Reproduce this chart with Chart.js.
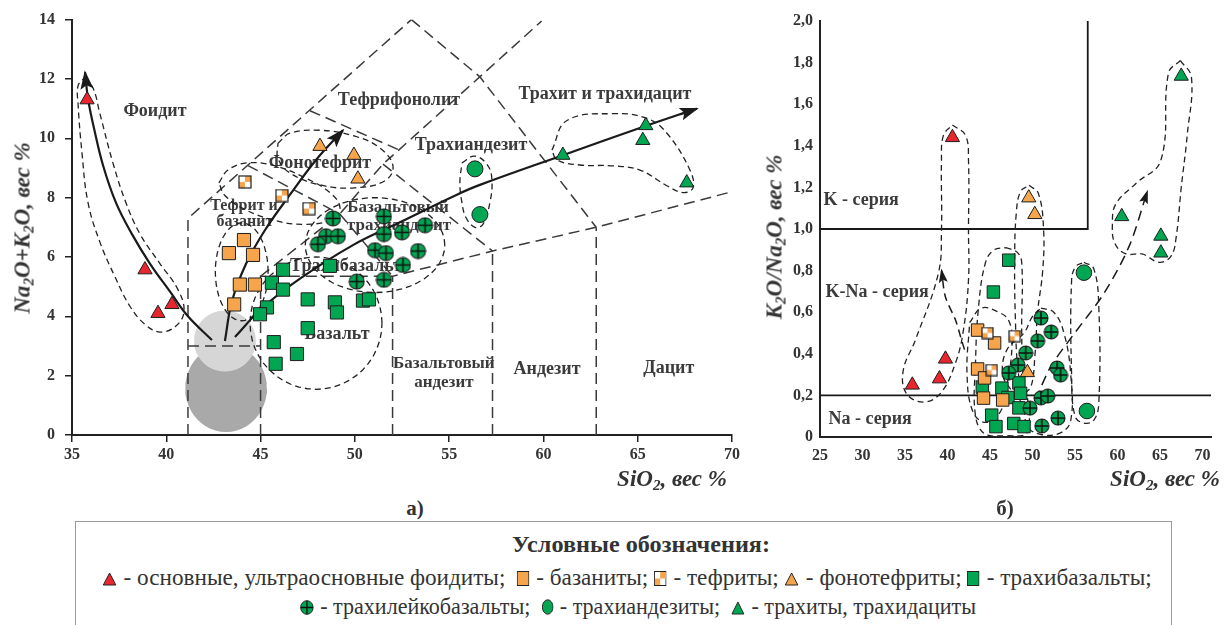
<!DOCTYPE html>
<html>
<head>
<meta charset="utf-8">
<script src="https://cdn.jsdelivr.net/npm/chart.js@4.4.1/dist/chart.umd.min.js"></script>
<style>
html,body{margin:0;padding:0;background:#fff;}
body{width:1232px;height:625px;position:relative;overflow:hidden;font-family:"Liberation Serif","DejaVu Serif",serif;color:#333;}
canvas{position:absolute;top:0;}
#tas{left:0;}
#kn{left:760px;}
.atitle{position:absolute;font-weight:bold;font-style:italic;font-size:23px;white-space:nowrap;color:#333;line-height:1;}
.atitle sub{font-size:15px;vertical-align:-4px;line-height:0;}
.rot{transform:translate(-50%,-50%) rotate(-90deg);}
.hor{transform:translate(-50%,-50%);}
.panel{position:absolute;font-weight:bold;font-size:21px;transform:translate(-50%,-50%);color:#333;}
#legend{position:absolute;left:75px;top:521px;width:1097px;height:130px;border:1px solid #9a9a9a;box-sizing:border-box;}
.lg{position:absolute;white-space:nowrap;color:#333;line-height:1;}
.lg-title{font-weight:bold;font-size:23px;}
.lg-row{font-size:24px;}
.lg-row svg{vertical-align:-1px;margin-right:1px;}
</style>
</head>
<body>
<canvas id="tas" width="745" height="470"></canvas>
<canvas id="kn" width="472" height="470"></canvas>

<div class="atitle rot" style="left:22px;top:228px;">Na<sub>2</sub>O+K<sub>2</sub>O, вес %</div>
<div class="atitle hor" style="left:672px;top:478px;">SiO<sub>2</sub>, вес %</div>
<div class="atitle rot" style="left:774px;top:237px;">K<sub>2</sub>O/Na<sub>2</sub>O, вес %</div>
<div class="atitle hor" style="left:1165px;top:478px;">SiO<sub>2</sub>, вес %</div>
<div class="panel" style="left:415px;top:508px;">а)</div>
<div class="panel" style="left:1005px;top:508px;">б)</div>

<div class="lg lg-title" id="lgTitle" style="left:641px;top:544px;">Условные обозначения:</div>
<div class="lg lg-row" id="row1" style="left:627px;top:577px;">
<svg width="15" height="14"><polygon points="7.5,1 14,13 1,13" fill="#e8262d" stroke="#222" stroke-width="1"/></svg> - основные, ультраосновные фоидиты;&nbsp;
<svg width="13" height="15"><rect x="0.5" y="0.5" width="12" height="14" fill="#f6a54c" stroke="#222" stroke-width="1"/></svg> - базаниты;
<svg width="13" height="15"><rect x="0.5" y="0.5" width="12" height="14" fill="#fff" stroke="#222" stroke-width="1"/><rect x="6.5" y="1" width="6" height="6.5" fill="#f6a54c"/><rect x="1" y="7.5" width="5.5" height="6.5" fill="#f6a54c"/></svg> - тефриты;
<svg width="15" height="14"><polygon points="7.5,1 14,13 1,13" fill="#f6a54c" stroke="#222" stroke-width="1"/></svg> - фонотефриты;
<svg width="13" height="15"><rect x="0.5" y="0.5" width="12" height="14" fill="#00a651" stroke="#222" stroke-width="1"/></svg> - трахибазальты;
</div>
<div class="lg lg-row" id="row2" style="left:638px;top:606px;">
<svg width="15" height="15"><circle cx="7.5" cy="7.5" r="6.8" fill="#00a651" stroke="#222" stroke-width="1"/><path d="M7.5 0.7V14.3M0.7 7.5H14.3" stroke="#111" stroke-width="1.4"/></svg> - трахилейкобазальты;&nbsp;
<svg width="13" height="16"><ellipse cx="6.5" cy="8" rx="5.8" ry="7.2" fill="#00a651" stroke="#222" stroke-width="1"/></svg> - трахиандезиты;&nbsp;
<svg width="15" height="14"><polygon points="7.5,1 14,13 1,13" fill="#00a651" stroke="#222" stroke-width="1"/></svg> - трахиты, трахидациты
</div>
<div id="legend"></div>

<script>
// ---------- tick values ----------
const tasSiTicks = [35, 40, 45, 50, 55, 60, 65, 70];
const tasAlkTicks = [0, 2, 4, 6, 8, 10, 12, 14];
const knSiTicks = [25, 30, 35, 40, 45, 50, 55, 60, 65, 70];
const knRatioTicks = [0, 0.2, 0.4, 0.6, 0.8, 1.0, 1.2, 1.4, 1.6, 1.8, 2.0];
const knRatioLabels = ['0', '0,2', '0,4', '0,6', '0,8', '1,0', '1,2', '1,4', '1,6', '1,8', '2,0'];

// ---------- a) Na2O+K2O vs SiO2 ----------
const tasFoiditeSi   = [35.8, 38.87, 39.56, 40.3];
const tasFoiditeAlk  = [11.3, 5.57, 4.1, 4.4];
const tasBasaniteSi  = [44.12, 43.32, 44.6, 43.9, 44.7, 43.6];
const tasBasaniteAlk = [6.57, 6.13, 6.07, 5.07, 5.07, 4.4];
const tasTephriteSi  = [44.17, 46.13, 47.57];
const tasTephriteAlk = [8.53, 8.07, 7.63];
const tasPhonotephriteSi  = [48.15, 49.95, 50.16];
const tasPhonotephriteAlk = [9.73, 9.43, 8.63];
const tasTrachybasaltSi  = [46.19, 48.68, 45.6, 46.19, 47.5, 48.94, 49.05, 45.34, 44.97, 47.5, 45.7, 46.93, 45.8, 50.43, 50.75];
const tasTrachybasaltAlk = [5.57, 5.7, 5.13, 4.9, 4.57, 4.47, 4.13, 4.3, 4.07, 3.6, 3.13, 2.73, 2.4, 4.53, 4.57];
const tasLeucoSi  = [48.84, 51.54, 53.72, 52.5, 51.54, 48.47, 49.1, 48.04, 51.07, 51.65, 53.35, 52.55, 50.1, 51.54];
const tasLeucoAlk = [7.3, 7.37, 7.07, 6.83, 6.77, 6.7, 6.7, 6.43, 6.23, 6.13, 6.2, 5.73, 5.17, 5.23];
const tasTrachyandesiteSi  = [56.37, 56.63];
const tasTrachyandesiteAlk = [8.97, 7.43];
const tasTrachyteSi  = [61.03, 65.43, 65.27, 67.6];
const tasTrachyteAlk = [9.43, 10.43, 9.93, 8.5];

// ---------- б) K2O/Na2O vs SiO2 ----------
const knFoiditeSi    = [35.86, 39.05, 39.76, 40.58];
const knFoiditeRatio = [0.25, 0.28, 0.375, 1.44];
const knBasaniteSi    = [43.54, 45.54, 43.54, 44.36, 44.24, 46.49];
const knBasaniteRatio = [0.514, 0.452, 0.327, 0.284, 0.187, 0.178];
const knTephriteSi    = [44.7, 47.9, 45.2];
const knTephriteRatio = [0.5, 0.485, 0.322];
const knPhonotephriteSi    = [49.56, 50.27, 49.4];
const knPhonotephriteRatio = [1.15, 1.07, 0.31];
const knTrachybasaltSi    = [47.2, 45.4, 44.1, 46.4, 48.4, 48.6, 47.1, 48.4, 45.2, 45.7, 47.8, 49.0];
const knTrachybasaltRatio = [0.85, 0.697, 0.24, 0.235, 0.26, 0.21, 0.19, 0.14, 0.105, 0.05, 0.065, 0.05];
const knLeucoSi    = [51.0, 52.2, 50.6, 49.2, 48.3, 47.2, 52.9, 53.3, 51.0, 51.8, 49.7, 53.0, 51.1];
const knLeucoRatio = [0.572, 0.505, 0.462, 0.404, 0.346, 0.308, 0.332, 0.298, 0.188, 0.197, 0.139, 0.091, 0.053];
const knTrachyandesiteSi    = [56.05, 56.4];
const knTrachyandesiteRatio = [0.79, 0.125];
const knTrachyteSi    = [67.5, 60.5, 65.1, 65.1];
const knTrachyteRatio = [1.735, 1.06, 0.966, 0.885];

// ---------- TAS field boundaries (SiO2, Na2O+K2O) ----------
const tasBoundaries = [
  [[41.15, 0], [41.15, 7.3], [53.0, 14.0]],
  [[41.15, 3.0], [45.0, 3.0]],
  [[45.0, 0], [45.0, 5.35], [52.0, 5.35]],
  [[52.0, 0], [52.0, 5.35], [57.3, 6.2], [62.8, 7.0], [70, 8.2]],
  [[57.3, 0], [57.3, 6.2]],
  [[62.8, 0], [62.8, 7.0]],
  [[45.0, 5.35], [49.2, 7.45], [51.49, 9.13], [52.34, 9.61], [59.9, 13.95]],
  [[44.33, 9.08], [49.2, 7.45]],
  [[49.2, 7.45], [52.0, 5.35]],
  [[47.62, 10.93], [52.34, 9.61]],
  [[51.49, 9.13], [57.3, 6.2]],
  [[53.0, 14.0], [56.63, 12.07], [62.8, 7.0]]
];

// grouping outlines on the TAS plot
const tasFoiditeLoop = [[35.64, 12.03], [36.11, 11.7], [36.48, 10.83], [37.17, 9.17], [37.86, 7.83], [38.61, 6.77], [39.67, 5.77], [40.62, 4.9], [40.94, 4.17], [40.51, 3.67], [39.67, 3.47], [38.87, 3.73], [38.08, 4.33], [37.28, 5.33], [36.48, 6.5], [35.85, 7.83], [35.53, 9.5], [35.32, 11.17], [35.32, 11.77]];
const tasTephriteLoop = [[42.79, 8.5], [43.27, 8.93], [44.28, 9.17], [45.76, 9.07], [47.35, 8.67], [48.68, 8.17], [49.21, 7.67], [48.79, 7.27], [47.35, 7.1], [45.76, 7.23], [44.17, 7.6], [43.11, 8.07]];
const tasPhonotephriteLoop = [[45.92, 9.83], [46.56, 10.17], [48.15, 10.27], [50.0, 10.07], [51.33, 9.67], [52.02, 9.07], [51.6, 8.57], [50.0, 8.33], [48.15, 8.43], [46.56, 8.83], [45.92, 9.33]];
const tasTrachyandesiteLoop = [[55.68, 9.17], [56.37, 9.4], [57.06, 9.07], [57.27, 8.57], [57.16, 7.83], [56.79, 7.1], [56.37, 7.0], [55.89, 7.33], [55.68, 7.83], [55.57, 8.5]];
const tasTrachyteLoop = [[60.45, 9.6], [61.25, 10.6], [63.69, 10.83], [65.49, 10.67], [66.55, 10.17], [67.77, 8.93], [67.93, 8.33], [67.4, 8.17], [66.55, 8.4], [65.12, 8.93], [63.69, 9.07], [61.94, 9.1], [60.72, 9.27]];
// ellipse outlines: [centre SiO2, centre alkali, half-width, half-height]
const tasBasaniteEllipse = [44.0, 5.5, 1.4, 1.65];
const tasBasaltEllipse = [47.94, 3.77, 3.5, 2.23];
const tasLeucoEllipse = [51.07, 6.4, 3.7, 1.6];
const picroDarkEllipse = [43.17, 1.57, 2.17, 1.47];
const picroLightEllipse = [43.11, 3.17, 1.64, 1.03];

// trend arrows
const tasFoiditeTrend = [[42.42, 3.2], [41.15, 4.0], [40.2, 4.83], [39.14, 5.77], [38.18, 6.77], [37.33, 7.83], [36.64, 9.1], [36.17, 10.33], [35.85, 11.33], [35.69, 12.23]];
const tasTephriteTrend = [[43.11, 3.17], [43.48, 4.5], [44.23, 5.77], [45.23, 6.9], [46.56, 8.1], [47.94, 9.27], [49.37, 10.27]];
const tasTrachyTrend = [[43.64, 3.3], [45.07, 4.27], [47.09, 5.27], [49.9, 6.4], [52.39, 7.17], [55.41, 8.1], [56.63, 8.43], [61.03, 9.43], [65.49, 10.43], [68.14, 11.0]];

// ---------- K2O/Na2O plot outlines ----------
const knSeriesLines = [
  [[25, 0.2], [71, 0.2]],
  [[25, 1.0], [56.5, 1.0], [56.5, 2.0]]
];
const knFoiditeLoop = [[40.58, 1.5], [42.12, 1.45], [42.47, 1.33], [42.47, 0.99], [42.47, 0.755], [41.88, 0.516], [40.94, 0.356], [39.17, 0.21], [37.16, 0.168], [35.15, 0.21], [34.8, 0.322], [36.22, 0.466], [38.93, 0.788], [39.29, 0.995], [39.29, 1.33], [39.52, 1.45]];
const knPhonotephriteLoop = [[49.6, 1.21], [50.7, 1.17], [51.3, 1.0], [51.2, 0.8], [50.6, 0.6], [50.3, 0.4], [49.8, 0.24], [48.9, 0.22], [48.3, 0.32], [48.0, 0.55], [47.9, 0.85], [48.1, 1.08], [48.6, 1.18]];
const knTrachybasaltLoop = [[46.84, 0.91], [48.14, 0.89], [48.73, 0.84], [48.73, 0.5], [48.9, 0.3], [49.6, 0.12], [49.2, 0.012], [46.84, 0.006], [44.48, 0.012], [43.3, 0.1], [43.3, 0.36], [43.65, 0.625], [44.48, 0.84], [45.5, 0.9]];
const knBasaniteLoop = [[42.6, 0.55], [44.0, 0.62], [46.0, 0.6], [47.2, 0.56], [47.6, 0.45], [47.0, 0.25], [46.2, 0.12], [44.5, 0.07], [43.0, 0.12], [42.3, 0.3]];
const knLeucoLoop = [[51.0, 0.62], [52.5, 0.6], [53.7, 0.5], [54.5, 0.3], [54.5, 0.08], [53.3, 0.02], [51.0, 0.012], [49.4, 0.05], [48.9, 0.15], [47.6, 0.22], [46.5, 0.3], [47.0, 0.42], [49.0, 0.5], [50.0, 0.58]];
const knTrachyandesiteLoop = [[56.05, 0.84], [57.2, 0.81], [57.8, 0.625], [57.8, 0.163], [57.2, 0.08], [56.05, 0.067], [55.0, 0.1], [54.6, 0.3], [54.6, 0.755], [55.1, 0.82]];
const knTrachyteLoop = [[67.4, 1.81], [68.7, 1.73], [68.2, 1.45], [67.5, 1.2], [66.9, 0.96], [66.3, 0.87], [64.9, 0.84], [62.9, 0.88], [61.0, 0.88], [59.7, 0.93], [59.4, 1.02], [59.8, 1.12], [62.2, 1.22], [65.1, 1.33], [66.0, 1.75]];
const knKNaTrend = [[42.0, 0.42], [41.65, 0.466], [40.94, 0.5625], [39.76, 0.673], [39.3, 0.8]];
const knTrachyTrend = [[49.0, 0.035], [51.9, 0.32], [54.6, 0.48], [58.4, 0.69], [61.4, 0.92], [63.5, 1.18]];

// ---------- field names ----------
const tasFieldNames = [
  {text: 'Фоидит', at: [39.4, 10.9]},
  {text: 'Тефрифонолит', at: [52.34, 11.27]},
  {text: 'Трахит и трахидацит', at: [63.26, 11.47]},
  {text: 'Фонотефрит', at: [48.15, 9.17]},
  {text: 'Трахиандезит', at: [56.16, 9.77]},
  {text: 'Тефрит и', at: [44.12, 7.73], size: 16},
  {text: 'базанит', at: [44.17, 7.17], size: 16},
  {text: 'Базальтовый', at: [52.29, 7.67], size: 17},
  {text: 'трахиандезит', at: [52.34, 7.07], size: 17},
  {text: 'Трахибазальт', at: [49.53, 5.67]},
  {text: 'Базальт', at: [49.05, 3.4]},
  {text: 'Пикроба-', at: [43.11, 1.73], size: 17},
  {text: 'зальт', at: [43.22, 1.1], size: 17},
  {text: 'Базальтовый', at: [54.72, 2.4], size: 17},
  {text: 'андезит', at: [54.72, 1.77], size: 17},
  {text: 'Андезит', at: [60.19, 2.2]},
  {text: 'Дацит', at: [66.65, 2.23]}
];
const knSeriesNames = [
  {text: 'K - серия', at: [29.84, 1.14]},
  {text: 'K-Na - серия', at: [31.73, 0.697]},
  {text: 'Na - серия', at: [30.9, 0.087]}
];

// ---------- styling ----------
const RED = '#e8262d', ORANGE = '#f6a54c', GREEN = '#00a651', EDGE = '#1e1e1e';
const SERIF = "'Liberation Serif', 'DejaVu Serif', serif";
Chart.defaults.font.family = SERIF;

function checkerMarker(size) {
  const c = document.createElement('canvas');
  c.width = c.height = size;
  const g = c.getContext('2d'), h = size / 2;
  g.fillStyle = '#fff'; g.fillRect(1, 1, size - 2, size - 2);
  g.fillStyle = ORANGE; g.fillRect(h, 1, h - 1, h - 1); g.fillRect(1, h, h - 1, h - 1);
  g.strokeStyle = EDGE; g.lineWidth = 1.2; g.strokeRect(1, 1, size - 2, size - 2);
  return c;
}
function crossMarker(d) {
  const c = document.createElement('canvas');
  c.width = c.height = d;
  const g = c.getContext('2d'), m = d / 2;
  g.beginPath(); g.arc(m, m, m - 1, 0, Math.PI * 2);
  g.fillStyle = GREEN; g.fill(); g.lineWidth = 1.1; g.strokeStyle = EDGE; g.stroke();
  g.beginPath(); g.moveTo(m, 1); g.lineTo(m, d - 1); g.moveTo(1, m); g.lineTo(d - 1, m);
  g.lineWidth = 1.6; g.strokeStyle = '#111'; g.stroke();
  return c;
}

const xy = (xs, ys) => xs.map((v, i) => ({x: v, y: ys[i]}));
const path = arr => arr.map(([x, y]) => ({x, y}));
const loop = arr => path(arr.concat([arr[0]]));
function ellipseOutline([cx, cy, rx, ry], n = 48) {
  const out = [];
  for (let i = 0; i <= n; i++) {
    const t = i / n * Math.PI * 2;
    out.push({x: cx + rx * Math.cos(t), y: cy + ry * Math.sin(t)});
  }
  return out;
}

function marks(data, style, fill, radius, order) {
  return {data, pointStyle: style, pointRadius: radius, pointHoverRadius: radius,
    backgroundColor: fill, borderColor: EDGE, borderWidth: 1, showLine: false, order: order};
}
function line(data, o) {
  return Object.assign({data, showLine: true, pointRadius: 0, pointHoverRadius: 0,
    borderColor: '#262626', borderWidth: 1.3, fill: false, tension: 0, order: 20}, o);
}
const boundaryStyle = {borderColor: '#3a3a3a', borderWidth: 1.5, borderDash: [11, 6], order: 30};
const loopStyle = {borderColor: '#222', borderWidth: 1.3, borderDash: [6, 4], tension: 0.4, order: 25};
const arrowStyle = {borderColor: '#1a1a1a', borderWidth: 2.2, tension: 0.4, order: 15, arrow: {len: 17, half: 6.5}};

const arrowHeads = {
  id: 'arrowHeads',
  afterDatasetsDraw(chart) {
    const ctx = chart.ctx;
    chart.data.datasets.forEach((ds, i) => {
      if (!ds.arrow) return;
      const el = chart.getDatasetMeta(i).data;
      const tip = el[el.length - 1], prev = el[el.length - 2];
      let bx = prev.x, by = prev.y;
      if (tip.cp1x !== undefined && Math.hypot(tip.x - tip.cp1x, tip.y - tip.cp1y) > 2) { bx = tip.cp1x; by = tip.cp1y; }
      const a = Math.atan2(tip.y - by, tip.x - bx), L = ds.arrow.len, W = ds.arrow.half;
      const ux = Math.cos(a), uy = Math.sin(a);
      ctx.save();
      ctx.fillStyle = '#1a1a1a';
      ctx.beginPath();
      ctx.moveTo(tip.x + ux * 2, tip.y + uy * 2);
      ctx.lineTo(tip.x - ux * L - uy * W, tip.y - uy * L + ux * W);
      ctx.lineTo(tip.x - ux * L * 0.78, tip.y - uy * L * 0.78);
      ctx.lineTo(tip.x - ux * L + uy * W, tip.y - uy * L - ux * W);
      ctx.closePath();
      ctx.fill();
      ctx.restore();
    });
  }
};
function fieldNames(list, size) {
  return {
    id: 'fieldNames',
    beforeDatasetsDraw(chart) {
      const {ctx, scales: {x, y}} = chart;
      ctx.save();
      ctx.fillStyle = '#3b3b3b';
      ctx.textAlign = 'center';
      ctx.textBaseline = 'middle';
      list.forEach(l => {
        ctx.font = 'bold ' + (l.size || size) + 'px ' + SERIF;
        ctx.fillText(l.text, x.getPixelForValue(l.at[0]), y.getPixelForValue(l.at[1]));
      });
      ctx.restore();
    }
  };
}
function fixedTicks(values) {
  return scale => { scale.ticks = values.map(v => ({value: v})); };
}
const tickFont = {family: SERIF, weight: 'bold', size: 16};

// ---------- chart a) ----------
const tasSets = [
  marks(xy(tasTrachybasaltSi, tasTrachybasaltAlk), 'rect', GREEN, 9.3, 6),
  marks(xy(tasLeucoSi, tasLeucoAlk), crossMarker(17), GREEN, 8, 5),
  marks(xy(tasTrachyandesiteSi, tasTrachyandesiteAlk), 'circle', GREEN, 8, 4),
  marks(xy(tasTrachyteSi, tasTrachyteAlk), 'triangle', GREEN, 8.2, 3),
  marks(xy(tasBasaniteSi, tasBasaniteAlk), 'rect', ORANGE, 9.3, 2),
  marks(xy(tasTephriteSi, tasTephriteAlk), checkerMarker(14), ORANGE, 8, 1),
  marks(xy(tasPhonotephriteSi, tasPhonotephriteAlk), 'triangle', ORANGE, 8.2, 1),
  marks(xy(tasFoiditeSi, tasFoiditeAlk), 'triangle', RED, 8.2, 0),
  line(path(tasFoiditeTrend), arrowStyle),
  line(path(tasTephriteTrend), arrowStyle),
  line(path(tasTrachyTrend), arrowStyle),
  line(loop(tasFoiditeLoop), loopStyle),
  line(loop(tasTephriteLoop), loopStyle),
  line(loop(tasPhonotephriteLoop), loopStyle),
  line(loop(tasTrachyandesiteLoop), loopStyle),
  line(loop(tasTrachyteLoop), loopStyle),
  line(ellipseOutline(tasBasaniteEllipse), Object.assign({}, loopStyle, {tension: 0})),
  line(ellipseOutline(tasBasaltEllipse), Object.assign({}, loopStyle, {tension: 0})),
  line(ellipseOutline(tasLeucoEllipse), Object.assign({}, loopStyle, {tension: 0})),
  ...tasBoundaries.map(b => line(path(b), boundaryStyle)),
  line(ellipseOutline(picroLightEllipse), {borderColor: 'rgba(0,0,0,0)', borderWidth: 0, fill: 'shape', backgroundColor: '#d6d6d6', order: 40}),
  line(ellipseOutline(picroDarkEllipse), {borderColor: 'rgba(0,0,0,0)', borderWidth: 0, fill: 'shape', backgroundColor: '#a9a9a9', order: 41})
];

new Chart(document.getElementById('tas'), {
  type: 'scatter',
  data: {datasets: tasSets},
  options: {
    responsive: false, animation: false, events: [],
    layout: {padding: {left: 0, right: 13, top: 15, bottom: 0}},
    plugins: {legend: {display: false}, tooltip: {enabled: false}},
    scales: {
      x: {type: 'linear', min: 35, max: 70,
        afterBuildTicks: fixedTicks(tasSiTicks), afterFit: s => { s.height = 35; },
        grid: {display: true, drawOnChartArea: false, drawTicks: true, tickLength: 7, color: '#222', lineWidth: 1.5},
        border: {display: true, color: '#222', width: 2},
        ticks: {font: tickFont, color: '#333', padding: 3, maxRotation: 0, autoSkip: false}},
      y: {type: 'linear', min: 0, max: 14,
        afterBuildTicks: fixedTicks(tasAlkTicks), afterFit: s => { s.width = 72; },
        grid: {display: true, drawOnChartArea: false, drawTicks: true, tickLength: 7, color: '#222', lineWidth: 1.5},
        border: {display: true, color: '#222', width: 2},
        ticks: {font: tickFont, color: '#333', padding: 10, autoSkip: false}}
    }
  },
  plugins: [fieldNames(tasFieldNames, 18), arrowHeads]
});

// ---------- chart б) ----------
const knSets = [
  marks(xy(knTrachybasaltSi, knTrachybasaltRatio), 'rect', GREEN, 8.8, 6),
  marks(xy(knLeucoSi, knLeucoRatio), crossMarker(16), GREEN, 8, 5),
  marks(xy(knTrachyandesiteSi, knTrachyandesiteRatio), 'circle', GREEN, 7.8, 4),
  marks(xy(knTrachyteSi, knTrachyteRatio), 'triangle', GREEN, 8.2, 3),
  marks(xy(knBasaniteSi, knBasaniteRatio), 'rect', ORANGE, 8.8, 2),
  marks(xy(knTephriteSi, knTephriteRatio), checkerMarker(13), ORANGE, 8, 1),
  marks(xy(knPhonotephriteSi, knPhonotephriteRatio), 'triangle', ORANGE, 8.2, 1),
  marks(xy(knFoiditeSi, knFoiditeRatio), 'triangle', RED, 8.2, 0),
  ...knSeriesLines.map(l => line(path(l), {borderColor: '#1a1a1a', borderWidth: 1.8, order: 35})),
  line(loop(knFoiditeLoop), loopStyle),
  line(loop(knPhonotephriteLoop), loopStyle),
  line(loop(knTrachybasaltLoop), loopStyle),
  line(loop(knBasaniteLoop), loopStyle),
  line(loop(knLeucoLoop), loopStyle),
  line(loop(knTrachyandesiteLoop), loopStyle),
  line(loop(knTrachyteLoop), loopStyle),
  line(path(knKNaTrend), {borderColor: '#1a1a1a', borderWidth: 1.5, borderDash: [8, 5], tension: 0.3, order: 15, arrow: {len: 12, half: 4.5}}),
  line(path(knTrachyTrend), {borderColor: '#1a1a1a', borderWidth: 1.5, borderDash: [10, 6], tension: 0.3, order: 15, arrow: {len: 12, half: 4.5}})
];

new Chart(document.getElementById('kn'), {
  type: 'scatter',
  data: {datasets: knSets},
  options: {
    responsive: false, animation: false, events: [],
    layout: {padding: {left: 0, right: 21, top: 21, bottom: 0}},
    plugins: {legend: {display: false}, tooltip: {enabled: false}},
    scales: {
      x: {type: 'linear', min: 25, max: 71,
        afterBuildTicks: fixedTicks(knSiTicks), afterFit: s => { s.height = 33; },
        grid: {display: false, drawTicks: false},
        border: {display: true, color: '#222', width: 2},
        ticks: {font: tickFont, color: '#333', padding: 9, maxRotation: 0, autoSkip: false}},
      y: {type: 'linear', min: 0, max: 2,
        afterBuildTicks: fixedTicks(knRatioTicks), afterFit: s => { s.width = 60; },
        grid: {display: false, drawTicks: false},
        border: {display: true, color: '#222', width: 2},
        ticks: {font: tickFont, color: '#333', padding: 7, autoSkip: false,
          callback: v => { const i = knRatioTicks.indexOf(v); return i >= 0 ? knRatioLabels[i] : ''; }}}
    }
  },
  plugins: [fieldNames(knSeriesNames, 18), arrowHeads]
});

// legend lines: squeeze each to its printed width
[['lgTitle', 258], ['row1', 1049], ['row2', 676]].forEach(([id, target]) => {
  const el = document.getElementById(id);
  const w = el.getBoundingClientRect().width;
  el.style.transform = 'translate(-50%,-50%) scaleX(' + (target / w).toFixed(3) + ')';
});
</script>
</body>
</html>
